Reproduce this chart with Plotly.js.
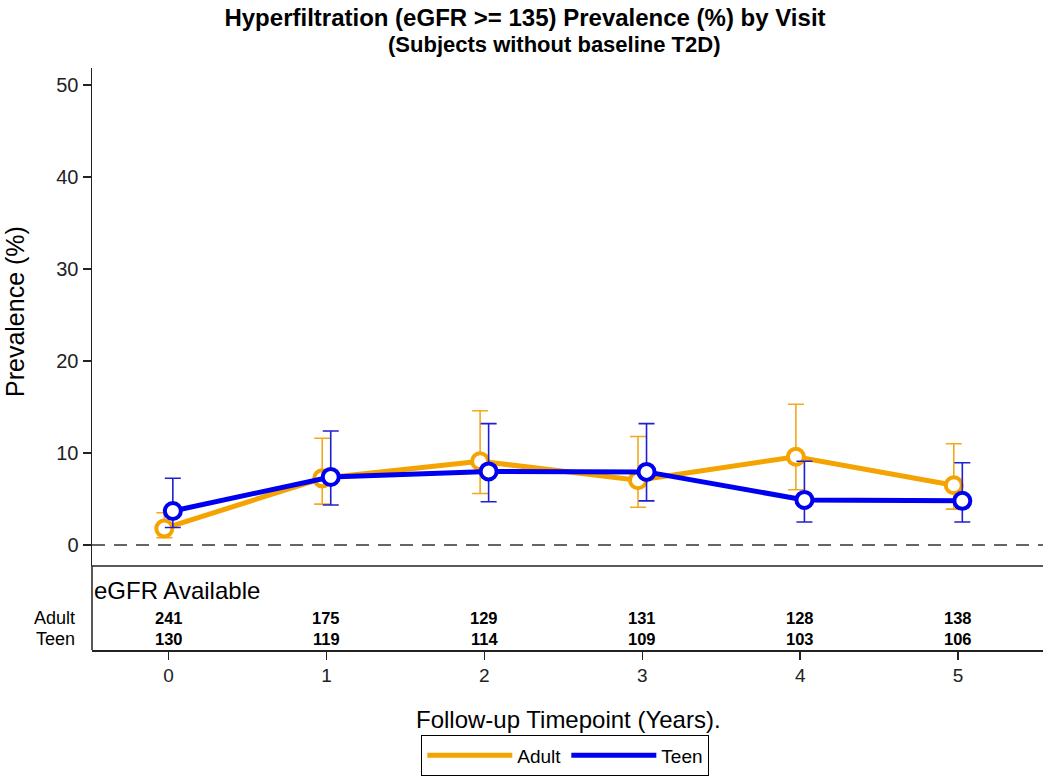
<!DOCTYPE html>
<html>
<head>
<meta charset="utf-8">
<script src="https://cdn.plot.ly/plotly-3.0.1.min.js"></script>
<style>html,body{margin:0;padding:0;background:#fff;}#chart{width:1050px;height:777px;}</style>
</head>
<body>
<div id="chart"></div>
<script>
const timepoints = [0, 1, 2, 3, 4, 5];
const tickLabels = ['0', '1', '2', '3', '4', '5'];
const adultPrev  = [1.8, 7.25, 9.1, 7.05, 9.6, 6.5];
const adultUpper = [3.5, 11.6, 14.6, 11.8, 15.3, 11.0];
const adultLower = [0.8, 4.45, 5.6, 4.1, 6.0, 3.9];
const teenPrev   = [3.7, 7.4, 8.0, 7.95, 4.9, 4.8];
const teenUpper  = [7.25, 12.4, 13.2, 13.2, 9.1, 8.95];
const teenLower  = [1.9, 4.35, 4.7, 4.8, 2.5, 2.5];
const adultN = [241, 175, 129, 131, 128, 138];
const teenN  = [130, 119, 114, 109, 103, 106];
const groups = ['Adult', 'Teen'];

const ORANGE = '#F5A300';
const BLUE = '#0000F0';
const FONT = 'Liberation Sans, Arial, sans-serif';
const dodge = 0.027;

function series(name, prev, up, lo, color, errColor, shift) {
  return {
    type: 'scatter', mode: 'lines+markers', name: name, showlegend: false,
    x: timepoints.map(t => t + shift), y: prev,
    line: {color: color, width: 5},
    marker: {symbol: 'circle', size: 16, color: '#ffffff', line: {color: color, width: 4}},
    error_y: {type: 'data', symmetric: false,
      array: up.map((u, i) => u - prev[i]),
      arrayminus: lo.map((l, i) => prev[i] - l),
      color: errColor, thickness: 1.6, width: 8},
    hoverinfo: 'x+y'
  };
}

const traces = [
  series(groups[0], adultPrev, adultUpper, adultLower, ORANGE, '#F2A91E', -dodge),
  series(groups[1], teenPrev, teenUpper, teenLower, BLUE, '#2020D0', dodge),
  {type: 'scatter', mode: 'lines', name: groups[0], x: [null], y: [null], line: {color: ORANGE, width: 5}},
  {type: 'scatter', mode: 'lines', name: groups[1], x: [null], y: [null], line: {color: BLUE, width: 5}}
];

const plotH = 582;
const tableTop = 84 / plotH;
function py(px) { return (650 - px) / plotH; }
function pxx(px) { return (px - 92) / 951; }

const annotations = [
  {text: '<b>(Subjects without baseline T2D)</b>', xref: 'paper', yref: 'paper', x: pxx(554), y: py(45), xanchor: 'center', yanchor: 'middle', showarrow: false, font: {family: FONT, size: 22, color: '#000'}},
  {text: 'eGFR Available', xref: 'paper', yref: 'paper', x: pxx(92), y: py(590), xanchor: 'left', yanchor: 'middle', showarrow: false, font: {family: FONT, size: 24, color: '#000'}},
  {text: groups[0], xref: 'paper', yref: 'paper', x: pxx(77), y: py(618), xanchor: 'right', yanchor: 'middle', showarrow: false, font: {family: FONT, size: 18, color: '#000'}},
  {text: groups[1], xref: 'paper', yref: 'paper', x: pxx(77), y: py(639), xanchor: 'right', yanchor: 'middle', showarrow: false, font: {family: FONT, size: 18, color: '#000'}},
  {text: 'Follow-up Timepoint (Years).', xref: 'paper', yref: 'paper', x: pxx(568), y: py(719), xanchor: 'center', yanchor: 'middle', showarrow: false, font: {family: FONT, size: 24, color: '#000'}},
  {text: 'Prevalence (%)', xref: 'paper', yref: 'paper', x: pxx(15), y: py(312), xanchor: 'center', yanchor: 'middle', textangle: -90, showarrow: false, font: {family: FONT, size: 25, color: '#000'}}
];
timepoints.forEach((t, i) => {
  annotations.push({text: '<b>' + adultN[i] + '</b>', xref: 'x', yref: 'paper', x: t, y: py(618), xanchor: 'center', yanchor: 'middle', showarrow: false, font: {family: FONT, size: 16.5, color: '#000'}});
  annotations.push({text: '<b>' + teenN[i] + '</b>', xref: 'x', yref: 'paper', x: t, y: py(639), xanchor: 'center', yanchor: 'middle', showarrow: false, font: {family: FONT, size: 16.5, color: '#000'}});
});

const layout = {
  width: 1050, height: 777,
  margin: {l: 92, r: 7, t: 68, b: 127, autoexpand: false},
  paper_bgcolor: '#fff', plot_bgcolor: '#fff',
  font: {family: FONT, color: '#000'},
  title: {text: '<b>Hyperfiltration (eGFR >= 135) Prevalence (%) by Visit</b>', xref: 'paper', x: pxx(525), xanchor: 'center', yref: 'container', y: 1 - 18 / 777, yanchor: 'middle', font: {family: FONT, size: 24, color: '#000'}},
  xaxis: {range: [-0.485, 5.538], tickvals: timepoints, ticktext: tickLabels, showgrid: false, zeroline: false,
    showline: true, linecolor: '#222', linewidth: 1.5, ticks: 'outside', ticklen: 8, tickcolor: '#222', tickwidth: 1.5,
    tickfont: {family: FONT, size: 19, color: '#222'}, anchor: 'free', position: 0, fixedrange: true, automargin: false},
  yaxis: {domain: [tableTop, 1], range: [-2.28, 51.85], tickvals: [0, 10, 20, 30, 40, 50], showgrid: false, zeroline: false,
    showline: true, linecolor: '#222', linewidth: 1.5, ticks: 'outside', ticklen: 8, tickcolor: '#222', tickwidth: 1.5,
    tickfont: {family: FONT, size: 20, color: '#222'}, fixedrange: true, automargin: false},
  showlegend: true,
  legend: {orientation: 'h', x: pxx(565), xanchor: 'center', y: py(776), yanchor: 'bottom',
    bordercolor: '#000', borderwidth: 1.3, font: {family: FONT, size: 19, color: '#000'}, itemwidth: 85, bgcolor: '#fff',
    tracegroupgap: 0},
  shapes: [
    {type: 'line', xref: 'paper', yref: 'y', x0: 0, x1: 1, y0: 0, y1: 0, line: {color: '#333', width: 1.5, dash: '13px,9px'}, layer: 'below'},
    {type: 'line', xref: 'paper', yref: 'paper', x0: 0, x1: 1, y0: tableTop, y1: tableTop, line: {color: '#222', width: 1.5}},
    {type: 'line', xref: 'paper', yref: 'paper', x0: 0, x1: 0, y0: 0, y1: tableTop, line: {color: '#222', width: 1.5}}
  ],
  annotations: annotations
};

Plotly.newPlot('chart', traces, layout, {displayModeBar: false, staticPlot: true});
</script>
</body>
</html>
